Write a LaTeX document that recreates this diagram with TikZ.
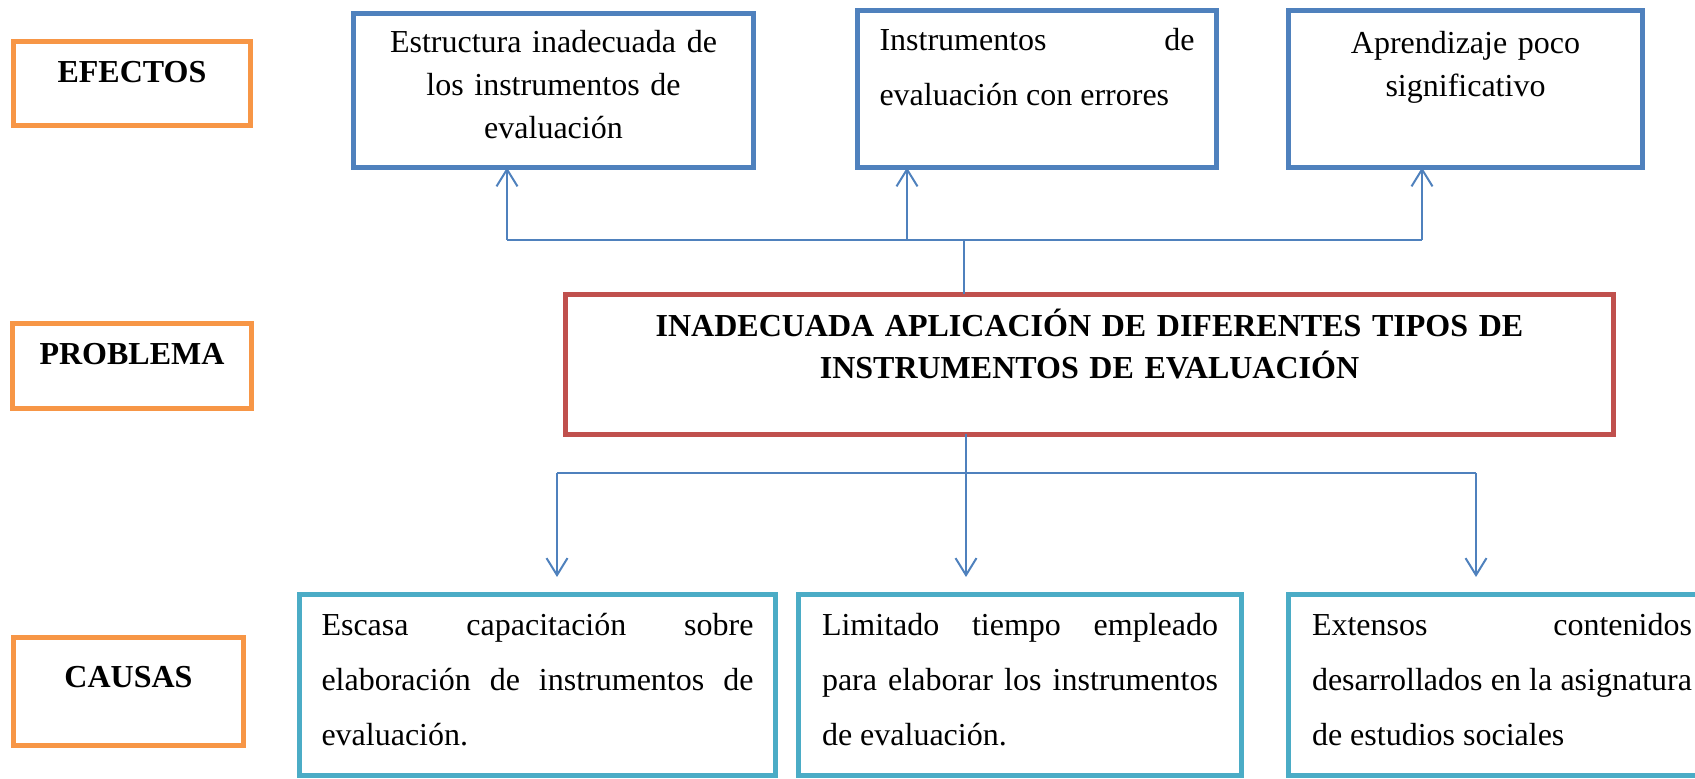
\documentclass[tikz,border=0pt]{standalone}
\usepackage{fontspec}
\setmainfont{Liberation Serif}
\usetikzlibrary{arrows.meta}

\definecolor{azul}{HTML}{4F81BD}
\definecolor{rojo}{HTML}{C0504D}
\definecolor{naranja}{HTML}{F79646}
\definecolor{celeste}{HTML}{4BACC6}

\tikzset{
  caja/.style={draw, line width=2.5pt, inner ysep=0pt, outer sep=0pt, anchor=north west,
               font=\fontsize{16}{21.5}\selectfont},
  rotulo/.style={caja, draw=naranja, align=center, font=\fontsize{16}{21.5}\selectfont\bfseries},
  efecto/.style={caja, draw=azul, align=center},
  causa/.style={caja, draw=celeste, align=justify, text width=#1,
                text height=20.25pt, text depth=70.25pt, font=\fontsize{16}{27.5}\selectfont},
  linea/.style={draw=azul, line width=1pt},
  flecha/.style={linea, -{Straight Barb[length=8.5pt,width=10.5pt]}}
}

\begin{document}
\begin{tikzpicture}[x=0.5pt, y=-0.5pt]
\useasboundingbox (0,0) rectangle (1695,779);

% rotulos de la izquierda
\node[rotulo, text width=100pt, inner xsep=9.25pt, text height=20.75pt, text depth=21.25pt]
  (efectos) at (13.5,41.5) {EFECTOS};
\node[rotulo, text width=101pt, inner xsep=9.25pt, text height=20.75pt, text depth=21.75pt]
  (problema) at (12.5,323.5) {PROBLEMA};
\node[rotulo, text width=97pt, inner xsep=9pt, text height=24.75pt, text depth=29.25pt]
  (causas) at (13.5,637.5) {CAUSAS};

% efectos
\node[efecto, text width=190pt, inner xsep=5pt, text height=19.75pt, text depth=57.25pt]
  (ef1) at (353.5,13.5) {Estructura inadecuada de\\los instrumentos de\\evaluación};
\node[efecto, align=justify, text width=157.5pt, inner xsep=11pt, text height=20.25pt, text depth=58.25pt,
      font=\fontsize{16}{27.5}\selectfont]
  (ef2) at (857.5,10.5) {Instrumentos\hfill de\\evaluación con errores};
\node[efecto, text width=165pt, inner xsep=6pt, text height=21.75pt, text depth=56.75pt]
  (ef3) at (1288.5,10.5) {Aprendizaje poco\\significativo};

% problema
\node[caja, draw=rojo, align=center, text width=500pt, inner xsep=12pt, text height=21.25pt, text depth=48.75pt,
      font=\fontsize{16}{21}\selectfont\bfseries]
  (prob) at (565.5,294.5) {INADECUADA APLICACIÓN DE DIFERENTES TIPOS DE\\INSTRUMENTOS DE EVALUACIÓN};

% causas
\node[causa=216pt, inner xsep=11pt] (ca1) at (299.5,594.5)
  {Escasa\hfill capacitación\hfill sobre\\elaboración\hfill de\hfill instrumentos\hfill de\\evaluación.};
\node[causa=198pt, inner xsep=11.75pt] (ca2) at (798.5,594.5)
  {Limitado\hfill tiempo\hfill empleado\\para\hfill elaborar\hfill los\hfill instrumentos\\de evaluación.};
\node[causa=190pt, inner xsep=11.75pt] (ca3) at (1288.5,594.5)
  {Extensos\hfill contenidos\\desarrollados\hfill en\hfill la\hfill asignatura\\de estudios sociales};

% conectores de arriba
\coordinate (sup) at (964,240);
\coordinate (s1) at (507,240);
\coordinate (s2) at (907,240);
\coordinate (s3) at (1422,240);
\draw[linea] (prob.north -| sup) -- (sup);
\draw[linea] (s1) -- (s3);
\foreach \i in {1,2,3}
  \draw[flecha] (s\i) -- (s\i |- ef\i.south);

% conectores de abajo
\coordinate (inf) at (966,473);
\coordinate (i1) at (557,473);
\coordinate (i2) at (966,473);
\coordinate (i3) at (1476,473);
\draw[linea] (prob.south -| inf) -- (inf);
\draw[linea] (i1) -- (i3);
\foreach \i in {1,2,3}
  \draw[flecha, shorten >=8.75pt] (i\i) -- (i\i |- ca\i.north);
\end{tikzpicture}
\end{document}
